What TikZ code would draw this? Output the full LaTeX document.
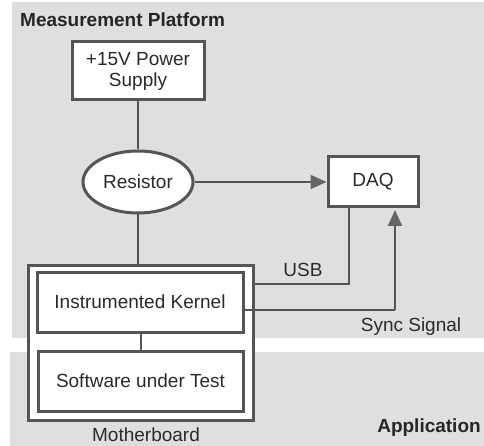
\documentclass[tikz,border=0pt]{standalone}
\usepackage{fontspec}
\setmainfont{Liberation Sans}
\usetikzlibrary{shapes.geometric,arrows.meta}

\definecolor{panelgray}{HTML}{DFDFDF}
\definecolor{edgegray}{HTML}{555555}
\definecolor{tipgray}{HTML}{666666}
\definecolor{textgray}{HTML}{2A2A2A}

\tikzset{
  txt/.style={font=\fontsize{19}{21}\selectfont, text=textgray, inner sep=0pt},
  headtxt/.style={font=\fontsize{19}{21}\selectfont\bfseries, text=black!85, inner sep=0pt},
  blockbox/.style={draw=edgegray, line width=3pt, fill=white, rectangle,
    inner sep=0pt, txt, align=center},
  ovalbox/.style={draw=edgegray, line width=3pt, fill=white, ellipse,
    inner sep=0pt, txt},
  wire/.style={draw=edgegray, line width=2pt},
  sigarrow/.style={wire, -{Triangle[length=16pt,width=14pt,color=tipgray]}}
}

\begin{document}
\begin{tikzpicture}[x=1pt,y=-1pt]
  \useasboundingbox (0,0) rectangle (484,446);
  \fill[white] (0,0) rectangle (484,446);

  % the two platform bands
  \fill[panelgray] (12,2) rectangle (484,338);
  \fill[panelgray] (10,352) rectangle (484,446);

  \node[headtxt, anchor=west] (mp) at (20,20) {Measurement Platform};
  \node[headtxt] (app) at (429,428) {Application};

  % blocks
  \node[blockbox, minimum width=132pt, minimum height=58pt] (ps) at (138,71)
    {+15V Power\\Supply};
  \node[ovalbox, minimum width=110pt, minimum height=62pt] (res) at (138,182) {Resistor};
  \node[blockbox, minimum width=90pt, minimum height=50pt] (daq) at (373,182) {DAQ};

  \node[blockbox, minimum width=225pt, minimum height=155pt] (mb) at (140.5,342.5) {};
  \node[blockbox, minimum width=206pt, minimum height=60pt] (ik) at (140,302)
    {Instrumented Kernel};
  \node[blockbox, minimum width=205pt, minimum height=60pt] (sut) at (140.5,381)
    {Software under Test};
  \node[txt] (mblabel) at (146,435) {Motherboard};

  % connections
  \draw[wire] (ps.south) -- (res.north);
  \draw[sigarrow] (res.east) -- (daq.west);
  \draw[wire] (res.south) -- (res.south |- mb.north);
  \draw[wire] (ik.south -| sut.north) -- (sut.north);

  \coordinate (usbturn) at (349,284);
  \draw[wire] (usbturn -| mb.east) -- (usbturn) -- (usbturn |- daq.south);
  \node[txt] (usb) at (303,270) {USB};

  \coordinate (syncturn) at (395,310);
  \draw[wire] (syncturn -| ik.east) -- (syncturn);
  \draw[sigarrow] (syncturn) -- ([yshift=-1.5pt]syncturn |- daq.south);
  \node[txt] (sync) at (411,327) {Sync Signal};
\end{tikzpicture}
\end{document}
